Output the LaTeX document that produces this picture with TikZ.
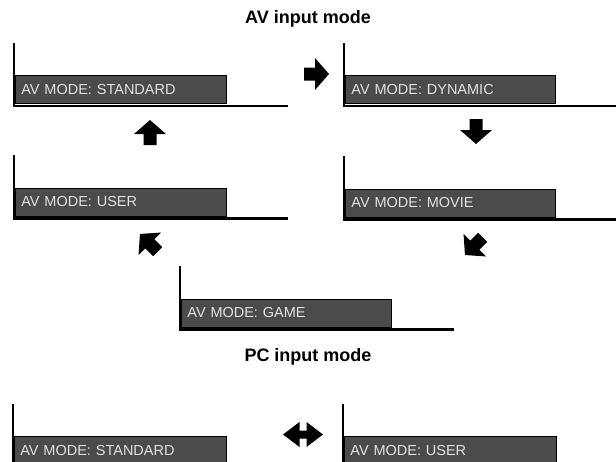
\documentclass[tikz,border=0pt]{standalone}
\usepackage{fontspec}
\setmainfont{Liberation Sans}
\usetikzlibrary{calc}
\definecolor{boxfill}{HTML}{4B4B4B}
\definecolor{boxtext}{HTML}{E2E2E2}
\tikzset{
  modebox/.style={draw=black, line width=0.8pt, fill=boxfill, text=boxtext,
    anchor=north west, minimum height=28pt, inner xsep=6pt, inner ysep=0pt,
    align=left, font=\fontsize{14.5}{16}\selectfont},
  frame/.style={draw=black, line width=2.6pt, line cap=rect},
  title/.style={font=\fontsize{18}{20}\selectfont\bfseries, text=black, inner sep=0pt},
  blockarrow/.style={fill=black, draw=none}
}
\newcommand{\myarrow}[3]{%
  \begin{scope}[shift={(#1,#2)}, rotate=#3]
    \fill[blockarrow] (12.5,0) -- (-1.5,16) -- (-1.5,6.5) -- (-12.5,6.5) -- (-12.5,-6.5) -- (-1.5,-6.5) -- (-1.5,-16) -- cycle;
  \end{scope}}
\begin{document}
\begin{tikzpicture}[x=1pt,y=-1pt]
\useasboundingbox (0,0) rectangle (616,461);
\clip (0,0) rectangle (616,461);

\node[title] (t1) at (308,19) {AV input mode};
\node[title] (t2) at (308,357) {PC input mode};

% AV panels
\node[modebox, text width=199pt] (b1) at (15,75) {AV MODE: STANDARD};
\node[modebox, text width=198pt] (b2) at (345,75) {AV MODE: DYNAMIC};
\node[modebox, text width=199pt] (b3) at (15,187.5) {AV MODE: USER};
\node[modebox, text width=198pt] (b4) at (345,188.5) {AV MODE: MOVIE};
\node[modebox, text width=198pt] (b5) at (181,298.5) {AV MODE: GAME};
% PC panels
\node[modebox, text width=200pt] (p1) at (14,436) {AV MODE: STANDARD};
\node[modebox, text width=200pt] (p2) at (344,436) {AV MODE: USER};

\foreach \b/\e in {b1/60,b2/62,b3/60,b4/62,b5/61,p1/60,p2/60}{
  \draw[frame] ([shift={(-1,-31)}]\b.north west) |- ([shift={(\e,2)}]\b.south east);
}

% arrows
\myarrow{316.5}{74}{0}
\myarrow{476}{131.5}{-90}
\myarrow{150}{132.5}{90}
\myarrow{148.8}{242.8}{135}
\myarrow{473.8}{246.2}{225}

% double arrow
\begin{scope}[shift={(303,434.5)}]
  \fill[blockarrow] (-20,0) -- (-3.5,-12.5) -- (-3.5,-4) -- (3.5,-4) -- (3.5,-12.5) -- (20,0)
    -- (3.5,12.5) -- (3.5,4) -- (-3.5,4) -- (-3.5,12.5) -- cycle;
\end{scope}
\end{tikzpicture}
\end{document}
